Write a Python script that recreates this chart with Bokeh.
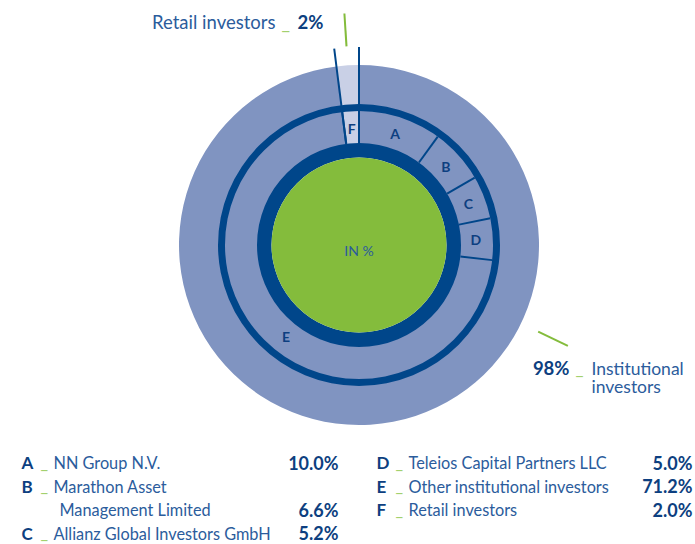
import numpy as np
from bokeh.plotting import figure
from bokeh.models import Range1d
from bokeh.core.properties import value
from bokeh.embed import file_html
from bokeh.resources import INLINE

# ---------------- data ----------------
outer_names = ["Institutional investors", "Retail investors"]
outer_values = [98.0, 2.0]
letters = ["A", "B", "C", "D", "E", "F"]
names = [["NN Group N.V."], ["Marathon Asset", "Management Limited"],
         ["Allianz Global Investors GmbH"], ["Teleios Capital Partners LLC"],
         ["Other institutional investors"], ["Retail investors"]]
shares = [10.0, 6.6, 5.2, 5.0, 71.2, 2.0]
center_label = "IN %"

# ---------------- style ----------------
DARK = "#00468a"
PERI = "#8094c1"
LIGHT = "#c9d0e6"
GREEN = "#84bc3c"
LGREEN = "#a3d06e"
TXT_B = "#0d3f80"
TXT = "#2b5c9c"
FONT = value("Lato")
SH = 6.5  # visual baseline correction (px)

W, H = 695, 544
p = figure(width=W, height=H, x_range=Range1d(0, W), y_range=Range1d(-H, 0),
           output_backend="svg", toolbar_location=None, min_border=0,
           x_axis_location=None, y_axis_location=None)
p.grid.visible = False
p.outline_line_color = None
p.background_fill_color = "white"

cx, cy = 358.5, -244.5
R_GREEN, R_D1, R_MID, R_D2, R_OUT = 87.5, 102.0, 134.0, 141.0, 180.0


def seg_angles(vals):
    v = np.asarray(vals, dtype=float)
    ends = 90.0 - np.cumsum(v) / v.sum() * 360.0
    starts = np.concatenate([[90.0], ends[:-1]])
    return starts, ends


o_st, o_en = seg_angles(outer_values)
i_st, i_en = seg_angles(shares)
rad = np.deg2rad

# outer ring
p.annular_wedge(x=[cx] * 2, y=[cy] * 2, inner_radius=R_D2 - 1, outer_radius=R_OUT,
                start_angle=list(rad(o_en)), end_angle=list(rad(o_st)),
                fill_color=[PERI, LIGHT], line_color=None)
# middle ring
mid_colors = [PERI] * 5 + [LIGHT]
p.annular_wedge(x=[cx] * 6, y=[cy] * 6, inner_radius=R_D1 - 1, outer_radius=R_MID + 1,
                start_angle=list(rad(i_en)), end_angle=list(rad(i_st)),
                fill_color=mid_colors, line_color=None)
# dark rings
p.annulus(x=[cx], y=[cy], inner_radius=R_GREEN, outer_radius=R_D1, fill_color=DARK, line_color=None)
p.annulus(x=[cx], y=[cy], inner_radius=R_MID, outer_radius=R_D2, fill_color=DARK, line_color=None)
# green core
p.circle(x=[cx], y=[cy], radius=R_GREEN, fill_color=GREEN, line_color=None)

# separators in middle ring
xs, ys = [], []
for a in i_st:
    t = rad(a)
    xs.append([cx + R_D1 * np.cos(t), cx + R_MID * np.cos(t)])
    ys.append([cy + R_D1 * np.sin(t), cy + R_MID * np.sin(t)])
# retail edges extending through outer ring
for a in [o_st[1], o_en[1]]:
    t = rad(a)
    xs.append([cx + R_D1 * np.cos(t), cx + 198 * np.cos(t)])
    ys.append([cy + R_D1 * np.sin(t), cy + 198 * np.sin(t)])
p.multi_line(xs=xs, ys=ys, line_color=DARK, line_width=2)

# ring letters (E nudged along the ring for placement)
mid_deg = (i_st + i_en) / 2.0
mid_deg[4] += 6.0
mids = rad(mid_deg)
p.text(x=list(cx + 117 * np.cos(mids)), y=list(cy + 117 * np.sin(mids)), text=letters,
       text_align="center", text_baseline="middle", text_font=FONT,
       text_font_size="14px", text_font_style="bold", text_color=TXT_B)
p.text(x=[cx], y=[cy - 5.5], text=[center_label], text_align="center", text_baseline="middle",
       text_font=FONT, text_font_size="14px", text_color=TXT)

# leader lines
lead_angles = [-25.8, (o_st[1] + o_en[1]) / 2.0]
lx, ly = [], []
for a in lead_angles:
    t = rad(a)
    lx.append([cx + 199 * np.cos(t), cx + 232 * np.cos(t)])
    ly.append([cy + 199 * np.sin(t), cy + 232 * np.sin(t)])
p.multi_line(xs=lx, ys=ly, line_color=GREEN, line_width=2)


def T(x, y, text, size, align="left", bold=False, color=TXT):
    p.text(x=x, y=[-(v - SH) for v in y], text=text, text_align=align, text_baseline="alphabetic",
           text_font=FONT, text_font_size=size, text_font_style="bold" if bold else "normal",
           text_color=color)


# outer annotations
T([275], [28], [outer_names[1]], "18.5px", align="right")
T([281], [28], ["_"], "18.5px", color=LGREEN)
T([297], [28], [f"{outer_values[1]:.0f}%"], "18.5px", bold=True, color=TXT_B)
T([569], [374], [f"{outer_values[0]:.0f}%"], "18.5px", align="right", bold=True, color=TXT_B)
T([575], [374], ["_"], "17.5px", color=LGREEN)
T([591, 591], [374, 392], outer_names[0].split(" "), "17.5px")

# legend
rows_left = [0, 1, 3]
rows_right = [0, 1, 2]
row_y0, row_dy = 468.5, 23.6
lx_, ly_, lt = [], [], []
ux, uy = [], []
nx, ny, nt = [], [], []
vx, vy, vt = [], [], []
for i, (L, nm, v) in enumerate(zip(letters, names, shares)):
    if i < 3:
        col_x, val_x, r = 21.0, 338.0, rows_left[i]
    else:
        col_x, val_x, r = 376.0, 692.0, rows_right[i - 3]
    y = row_y0 + r * row_dy
    lx_.append(col_x); ly_.append(y); lt.append(L)
    ux.append(col_x + 19); uy.append(y)
    for k, line in enumerate(nm):
        nx.append(col_x + 32 + (6 if k > 0 else 0)); ny.append(y + k * row_dy); nt.append(line)
    vx.append(val_x); vy.append(y + (len(nm) - 1) * row_dy); vt.append(f"{v:.1f}%")

T(lx_, ly_, lt, "17px", bold=True, color=TXT_B)
T(ux, uy, ["_"] * len(ux), "16.5px", color=LGREEN)
T(nx, ny, nt, "16.3px")
T(vx, vy, vt, "18px", align="right", bold=True, color=TXT_B)

open("out.html", "w").write(file_html(p, INLINE))
